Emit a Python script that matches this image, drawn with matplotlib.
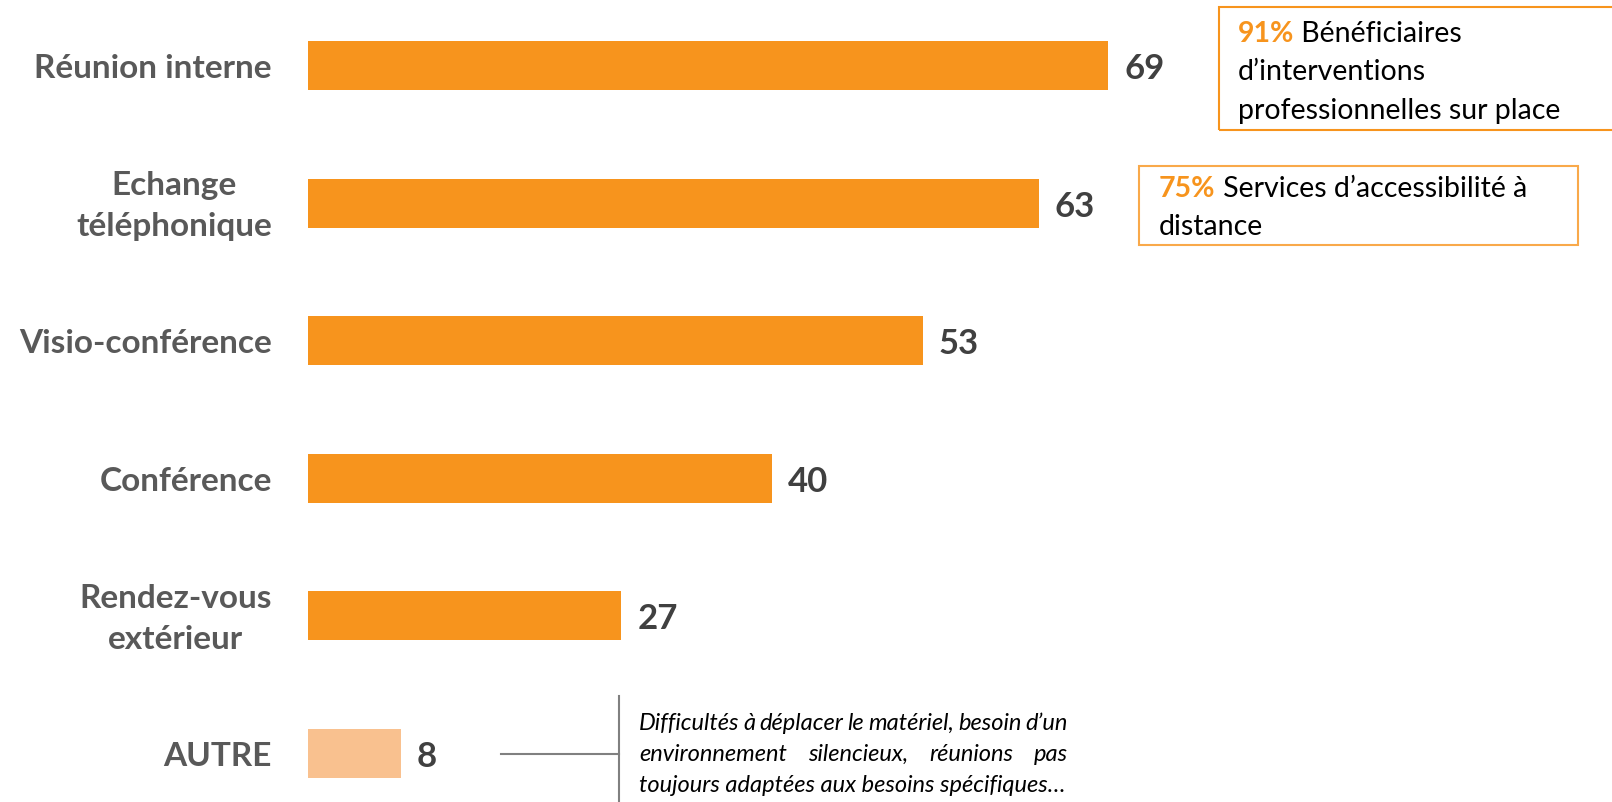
import matplotlib
matplotlib.use("Agg")
import matplotlib.pyplot as plt
from matplotlib.patches import Rectangle
from matplotlib.lines import Line2D

plt.rcParams["font.family"] = ["Lato", "DejaVu Sans"]

# Données
categories = ["Réunion interne", "Echange\ntéléphonique", "Visio-conférence",
              "Conférence", "Rendez-vous\nextérieur", "AUTRE"]
values = [69, 63, 53, 40, 27, 8]
bar_colors = ["#F7941D"] * 5 + ["#F9C18F"]

box1_pct = "91%"
box1_lines = [" Bénéficiaires", "d’interventions", "professionnelles sur place"]
box2_pct = "75%"
box2_lines = [" Services d’accessibilité à", "distance"]
note_lines = ["Difficultés à déplacer le matériel, besoin d’un",
              "environnement silencieux, réunions pas",
              "toujours adaptées aux besoins spécifiques…"]

ORANGE = "#F7941D"
W, H = 1612, 803
BOX_FS = 20.5
NOTE_FS = 17.0


def fx(x):
    return x / W


def fy(y):
    return 1 - y / H


fig = plt.figure(figsize=(W / 100, H / 100), dpi=100)
ax = fig.add_axes([fx(308), 0, 1 - fx(308), 1])

pos = list(range(len(values)))
ax.barh(pos, values, height=0.356, color=bar_colors)
ax.set_xlim(0, 1304 / 11.6)
ax.set_ylim((H - 66.5) / 137.6, -66.5 / 137.6)
ax.axis("off")

# étiquettes des catégories et valeurs
for i, (cat, v) in enumerate(zip(categories, values)):
    ax.annotate(cat, xy=(0, i), xytext=(-36 * 0.72, -2 * 0.72),
                textcoords="offset points", ha="right", va="center",
                multialignment="center", fontsize=24, fontweight="bold",
                color="#595959", linespacing=1.5)
    ax.annotate(str(v), xy=(v, i), xytext=(16 * 0.72, -12.5 * 0.72),
                textcoords="offset points", ha="left", va="baseline",
                fontsize=25, fontweight="bold", color="#404040")

# encadrés
fig.patches.append(Rectangle((fx(1219), fy(131)), fx(1650 - 1219), (131 - 8) / H,
                             transform=fig.transFigure, fill=False,
                             edgecolor=ORANGE, lw=1.5))
fig.patches.append(Rectangle((fx(1139), fy(246)), fx(1578 - 1139), (246 - 167) / H,
                             transform=fig.transFigure, fill=False,
                             edgecolor="#F9A94A", lw=1.5))


def box_text(pct, lines, x, y0, step):
    t = fig.text(fx(x), fy(y0), pct, fontsize=BOX_FS, fontweight="bold",
                 color=ORANGE, va="baseline")
    plt.annotate(lines[0], xy=(1, 0), xycoords=t, va="bottom", ha="left",
                 fontsize=BOX_FS, color="black")
    for k, line in enumerate(lines[1:], start=1):
        fig.text(fx(x), fy(y0 + k * step), line, fontsize=BOX_FS,
                 color="black", va="baseline")


box_text(box1_pct, box1_lines, 1238, 42, 38.5)
box_text(box2_pct, box2_lines, 1159, 197, 38)

# note AUTRE
fig.add_artist(Line2D([fx(501), fx(619)], [fy(755), fy(755)],
                      color="#808080", lw=1.5))
fig.add_artist(Line2D([fx(619), fx(619)], [fy(697), fy(H)],
                      color="#808080", lw=1.5))

# texte justifié (sauf la dernière ligne)
fig.canvas.draw()
r = fig.canvas.get_renderer()
left, right = 639, 1068
for k, line in enumerate(note_lines):
    y = fy(730 + k * 31)
    if k == len(note_lines) - 1:
        fig.text(fx(left), y, line, fontsize=NOTE_FS, style="italic",
                 color="black", va="baseline")
        continue
    words = line.split()
    texts = [fig.text(0, y, w, fontsize=NOTE_FS, style="italic", color="black",
                      va="baseline") for w in words]
    widths = [t.get_window_extent(r).width for t in texts]
    gap = max((right - left - sum(widths)) / (len(words) - 1), 4)
    x = left
    for t, w in zip(texts, widths):
        t.set_x(fx(x))
        x += w + gap

fig.savefig("out.png", dpi=100)
